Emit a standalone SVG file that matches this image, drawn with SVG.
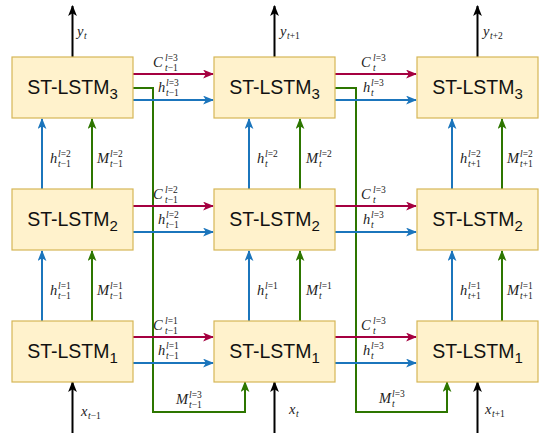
<svg xmlns="http://www.w3.org/2000/svg" width="550" height="440" viewBox="0 0 550 440">
<style>
.box{fill:#fff2cc;stroke:#d6b656;stroke-width:1.2}
.bt{font-family:"Liberation Sans",Arial,sans-serif;font-size:19.5px;fill:#111;text-anchor:middle}
.ln{fill:none;stroke-width:2}
.r{stroke:#a50040}.b{stroke:#1b75bc}.g{stroke:#2d7600}.k{stroke:#000}
.m{font-family:"Liberation Serif","DejaVu Serif",serif;font-style:italic;font-size:14.5px;fill:#222}
.s{font-family:"Liberation Serif","DejaVu Serif",serif;font-size:9.5px;fill:#222}
.s .i{font-style:italic}
</style>
<defs>
<marker id="ar" viewBox="0 0 10 8" refX="9" refY="4" markerWidth="11" markerHeight="9" markerUnits="userSpaceOnUse" orient="auto"><path d="M0,0 L10,4 L0,8 L2.5,4 z" fill="#a50040"/></marker>
<marker id="ab" viewBox="0 0 10 8" refX="9" refY="4" markerWidth="11" markerHeight="9" markerUnits="userSpaceOnUse" orient="auto"><path d="M0,0 L10,4 L0,8 L2.5,4 z" fill="#1b75bc"/></marker>
<marker id="ag" viewBox="0 0 10 8" refX="9" refY="4" markerWidth="11" markerHeight="9" markerUnits="userSpaceOnUse" orient="auto"><path d="M0,0 L10,4 L0,8 L2.5,4 z" fill="#2d7600"/></marker>
<marker id="ak" viewBox="0 0 10 8" refX="9" refY="4" markerWidth="11" markerHeight="9" markerUnits="userSpaceOnUse" orient="auto"><path d="M0,0 L10,4 L0,8 L2.5,4 z" fill="#000"/></marker>
</defs>

<g id="connectors">
<line class="ln k" x1="72.5" y1="57" x2="72.5" y2="6" marker-end="url(#ak)"/>
<line class="ln k" x1="274.5" y1="57" x2="274.5" y2="6" marker-end="url(#ak)"/>
<line class="ln k" x1="477.5" y1="57" x2="477.5" y2="6" marker-end="url(#ak)"/>
<line class="ln k" x1="72.5" y1="433" x2="72.5" y2="382" marker-end="url(#ak)"/>
<line class="ln k" x1="274.5" y1="433" x2="274.5" y2="382" marker-end="url(#ak)"/>
<line class="ln k" x1="477.5" y1="433" x2="477.5" y2="382" marker-end="url(#ak)"/>
<path class="ln g" d="M133,88 H153 V412 H245 V382" marker-end="url(#ag)"/>
<path class="ln g" d="M335,88 H356 V412 H447 V382" marker-end="url(#ag)"/>
<line class="ln r" x1="133" y1="74" x2="213" y2="74" marker-end="url(#ar)"/>
<line class="ln b" x1="133" y1="100" x2="213" y2="100" marker-end="url(#ab)"/>
<line class="ln r" x1="335" y1="74" x2="416" y2="74" marker-end="url(#ar)"/>
<line class="ln b" x1="335" y1="100" x2="416" y2="100" marker-end="url(#ab)"/>
<line class="ln r" x1="133" y1="206" x2="213" y2="206" marker-end="url(#ar)"/>
<line class="ln b" x1="133" y1="232" x2="213" y2="232" marker-end="url(#ab)"/>
<line class="ln r" x1="335" y1="206" x2="416" y2="206" marker-end="url(#ar)"/>
<line class="ln b" x1="335" y1="232" x2="416" y2="232" marker-end="url(#ab)"/>
<line class="ln r" x1="133" y1="337" x2="213" y2="337" marker-end="url(#ar)"/>
<line class="ln b" x1="133" y1="363" x2="213" y2="363" marker-end="url(#ab)"/>
<line class="ln r" x1="335" y1="337" x2="416" y2="337" marker-end="url(#ar)"/>
<line class="ln b" x1="335" y1="363" x2="416" y2="363" marker-end="url(#ab)"/>
<line class="ln b" x1="42" y1="189" x2="42" y2="119" marker-end="url(#ab)"/>
<line class="ln g" x1="92" y1="189" x2="92" y2="119" marker-end="url(#ag)"/>
<line class="ln b" x1="249" y1="189" x2="249" y2="119" marker-end="url(#ab)"/>
<line class="ln g" x1="300" y1="189" x2="300" y2="119" marker-end="url(#ag)"/>
<line class="ln b" x1="452" y1="189" x2="452" y2="119" marker-end="url(#ab)"/>
<line class="ln g" x1="502" y1="189" x2="502" y2="119" marker-end="url(#ag)"/>
<line class="ln b" x1="42" y1="321" x2="42" y2="251" marker-end="url(#ab)"/>
<line class="ln g" x1="92" y1="321" x2="92" y2="251" marker-end="url(#ag)"/>
<line class="ln b" x1="249" y1="321" x2="249" y2="251" marker-end="url(#ab)"/>
<line class="ln g" x1="300" y1="321" x2="300" y2="251" marker-end="url(#ag)"/>
<line class="ln b" x1="452" y1="321" x2="452" y2="251" marker-end="url(#ab)"/>
<line class="ln g" x1="502" y1="321" x2="502" y2="251" marker-end="url(#ag)"/>
</g>

<g id="n13"><rect class="box" x="12" y="57" width="121" height="61"/><text class="bt" x="72.5" y="94">ST-LSTM<tspan font-size="15" dy="5">3</tspan></text></g>
<g id="n23"><rect class="box" x="214" y="57" width="121" height="61"/><text class="bt" x="274.5" y="94">ST-LSTM<tspan font-size="15" dy="5">3</tspan></text></g>
<g id="n33"><rect class="box" x="417" y="57" width="121" height="61"/><text class="bt" x="477.5" y="94">ST-LSTM<tspan font-size="15" dy="5">3</tspan></text></g>
<g id="n12"><rect class="box" x="12" y="189" width="121" height="61"/><text class="bt" x="72.5" y="226">ST-LSTM<tspan font-size="15" dy="5">2</tspan></text></g>
<g id="n22"><rect class="box" x="214" y="189" width="121" height="61"/><text class="bt" x="274.5" y="226">ST-LSTM<tspan font-size="15" dy="5">2</tspan></text></g>
<g id="n32"><rect class="box" x="417" y="189" width="121" height="61"/><text class="bt" x="477.5" y="226">ST-LSTM<tspan font-size="15" dy="5">2</tspan></text></g>
<g id="n11"><rect class="box" x="12" y="321" width="121" height="61"/><text class="bt" x="72.5" y="358">ST-LSTM<tspan font-size="15" dy="5">1</tspan></text></g>
<g id="n21"><rect class="box" x="214" y="321" width="121" height="61"/><text class="bt" x="274.5" y="358">ST-LSTM<tspan font-size="15" dy="5">1</tspan></text></g>
<g id="n31"><rect class="box" x="417" y="321" width="121" height="61"/><text class="bt" x="477.5" y="358">ST-LSTM<tspan font-size="15" dy="5">1</tspan></text></g>

<g id="labels">
<text class="m" x="77" y="36">y</text><text class="s" x="84" y="39"><tspan class="i">t</tspan></text>
<text class="m" x="280" y="36">y</text><text class="s" x="287" y="39"><tspan class="i">t</tspan>+1</text>
<text class="m" x="483" y="36">y</text><text class="s" x="490" y="39"><tspan class="i">t</tspan>+2</text>
<text class="m" x="81" y="416">x</text><text class="s" x="88" y="419"><tspan class="i">t</tspan>−1</text>
<text class="m" x="289" y="414">x</text><text class="s" x="296" y="417"><tspan class="i">t</tspan></text>
<text class="m" x="485" y="414">x</text><text class="s" x="492" y="417"><tspan class="i">t</tspan>+1</text>

<text class="m" x="153" y="67">C</text><text class="s" x="165" y="61"><tspan class="i">l</tspan>=3</text><text class="s" x="165" y="71"><tspan class="i">t</tspan>−1</text>
<text class="m" x="158" y="92">h</text><text class="s" x="166" y="86"><tspan class="i">l</tspan>=3</text><text class="s" x="166" y="96"><tspan class="i">t</tspan>−1</text>
<text class="m" x="153" y="199">C</text><text class="s" x="165" y="193"><tspan class="i">l</tspan>=2</text><text class="s" x="165" y="203"><tspan class="i">t</tspan>−1</text>
<text class="m" x="158" y="224">h</text><text class="s" x="166" y="218"><tspan class="i">l</tspan>=2</text><text class="s" x="166" y="228"><tspan class="i">t</tspan>−1</text>
<text class="m" x="153" y="330">C</text><text class="s" x="165" y="324"><tspan class="i">l</tspan>=1</text><text class="s" x="165" y="334"><tspan class="i">t</tspan>−1</text>
<text class="m" x="158" y="355">h</text><text class="s" x="166" y="349"><tspan class="i">l</tspan>=1</text><text class="s" x="166" y="359"><tspan class="i">t</tspan>−1</text>

<text class="m" x="361" y="67">C</text><text class="s" x="373" y="61"><tspan class="i">l</tspan>=3</text><text class="s" x="373" y="71"><tspan class="i">t</tspan></text>
<text class="m" x="363" y="92">h</text><text class="s" x="371" y="86"><tspan class="i">l</tspan>=3</text><text class="s" x="371" y="96"><tspan class="i">t</tspan></text>
<text class="m" x="361" y="199">C</text><text class="s" x="373" y="193"><tspan class="i">l</tspan>=3</text><text class="s" x="373" y="203"><tspan class="i">t</tspan></text>
<text class="m" x="363" y="224">h</text><text class="s" x="371" y="218"><tspan class="i">l</tspan>=3</text><text class="s" x="371" y="228"><tspan class="i">t</tspan></text>
<text class="m" x="361" y="330">C</text><text class="s" x="373" y="324"><tspan class="i">l</tspan>=3</text><text class="s" x="373" y="334"><tspan class="i">t</tspan></text>
<text class="m" x="363" y="355">h</text><text class="s" x="371" y="349"><tspan class="i">l</tspan>=3</text><text class="s" x="371" y="359"><tspan class="i">t</tspan></text>

<text class="m" x="50" y="163">h</text><text class="s" x="58" y="157"><tspan class="i">l</tspan>=2</text><text class="s" x="58" y="167"><tspan class="i">t</tspan>−1</text>
<text class="m" x="97" y="163">M</text><text class="s" x="110" y="157"><tspan class="i">l</tspan>=2</text><text class="s" x="110" y="167"><tspan class="i">t</tspan>−1</text>
<text class="m" x="257" y="163">h</text><text class="s" x="265" y="157"><tspan class="i">l</tspan>=2</text><text class="s" x="265" y="167"><tspan class="i">t</tspan></text>
<text class="m" x="306" y="163">M</text><text class="s" x="319" y="157"><tspan class="i">l</tspan>=2</text><text class="s" x="319" y="167"><tspan class="i">t</tspan></text>
<text class="m" x="460" y="163">h</text><text class="s" x="468" y="157"><tspan class="i">l</tspan>=2</text><text class="s" x="468" y="167"><tspan class="i">t</tspan>+1</text>
<text class="m" x="507" y="163">M</text><text class="s" x="520" y="157"><tspan class="i">l</tspan>=2</text><text class="s" x="520" y="167"><tspan class="i">t</tspan>+1</text>

<text class="m" x="50" y="295">h</text><text class="s" x="58" y="289"><tspan class="i">l</tspan>=1</text><text class="s" x="58" y="299"><tspan class="i">t</tspan>−1</text>
<text class="m" x="97" y="295">M</text><text class="s" x="110" y="289"><tspan class="i">l</tspan>=1</text><text class="s" x="110" y="299"><tspan class="i">t</tspan>−1</text>
<text class="m" x="257" y="295">h</text><text class="s" x="265" y="289"><tspan class="i">l</tspan>=1</text><text class="s" x="265" y="299"><tspan class="i">t</tspan></text>
<text class="m" x="306" y="295">M</text><text class="s" x="319" y="289"><tspan class="i">l</tspan>=1</text><text class="s" x="319" y="299"><tspan class="i">t</tspan></text>
<text class="m" x="460" y="295">h</text><text class="s" x="468" y="289"><tspan class="i">l</tspan>=1</text><text class="s" x="468" y="299"><tspan class="i">t</tspan>+1</text>
<text class="m" x="507" y="295">M</text><text class="s" x="520" y="289"><tspan class="i">l</tspan>=1</text><text class="s" x="520" y="299"><tspan class="i">t</tspan>+1</text>

<text class="m" x="176" y="404">M</text><text class="s" x="189" y="398"><tspan class="i">l</tspan>=3</text><text class="s" x="189" y="408"><tspan class="i">t</tspan>−1</text>
<text class="m" x="379" y="403">M</text><text class="s" x="392" y="397"><tspan class="i">l</tspan>=3</text><text class="s" x="392" y="407"><tspan class="i">t</tspan></text>
</g>
</svg>
